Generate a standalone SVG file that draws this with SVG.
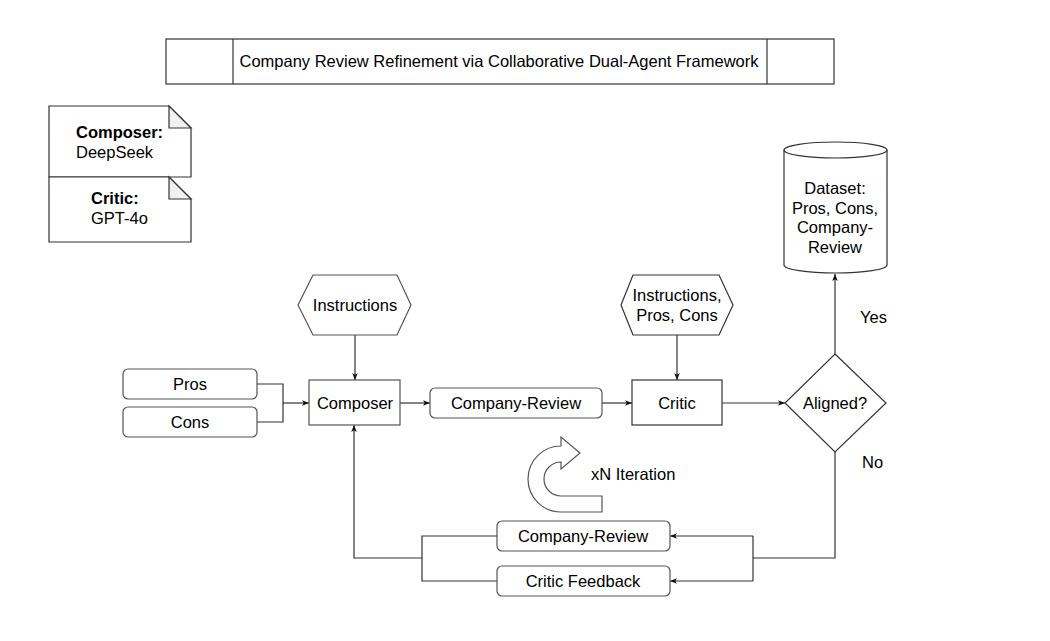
<svg xmlns="http://www.w3.org/2000/svg" width="1050" height="641" viewBox="0 0 1050 641">
<defs>
<style>
text{font-family:"Liberation Sans",Arial,sans-serif;font-size:16.5px;fill:#000;}
.c{text-anchor:middle;}
.b{font-weight:bold;}
.s{fill:#fff;stroke:#333;stroke-width:1.2;}
.g{fill:#fff;stroke:#555;stroke-width:1.2;}
.l{fill:none;stroke:#333;stroke-width:1.2;}
.fold{fill:#f0f0f0;stroke:#333;stroke-width:1.2;}
</style>
<marker id="ah" viewBox="0 0 10 10" refX="10" refY="5" markerWidth="7" markerHeight="7" orient="auto" markerUnits="userSpaceOnUse">
<path d="M0,1 L10,5 L0,9 L2.5,5 Z" fill="#111"/>
</marker>
</defs>
<rect width="1050" height="641" fill="#fff"/>

<g id="title">
<rect class="s" x="166" y="39" width="668" height="45"/>
<line class="l" x1="233" y1="39" x2="233" y2="84"/>
<line class="l" x1="767" y1="39" x2="767" y2="84"/>
<text class="c" x="499" y="67">Company Review Refinement via Collaborative Dual-Agent Framework</text>
</g>

<g id="note-composer">
<path class="s" d="M49,106 H169 L191,128 V177 H49 Z"/>
<path class="fold" d="M169,106 V128 H191 Z"/>
<text class="b" x="76" y="138">Composer:</text>
<text x="76" y="158">DeepSeek</text>
</g>
<g id="note-critic">
<path class="s" d="M49,177 H169 L191,199 V242 H49 Z"/>
<path class="fold" d="M169,177 V199 H191 Z"/>
<text class="b" x="91" y="204">Critic:</text>
<text x="91" y="224">GPT-4o</text>
</g>

<g id="connectors">
<polyline class="l" points="257,384 283,384 283,422 257,422"/>
<line class="l" x1="283" y1="403" x2="309" y2="403" marker-end="url(#ah)"/>
<line class="l" x1="355" y1="335" x2="355" y2="380" marker-end="url(#ah)"/>
<line class="l" x1="677" y1="335" x2="677" y2="380" marker-end="url(#ah)"/>
<line class="l" x1="400" y1="403" x2="430" y2="403" marker-end="url(#ah)"/>
<line class="l" x1="602" y1="403" x2="632" y2="403" marker-end="url(#ah)"/>
<line class="l" x1="722" y1="403" x2="785" y2="403" marker-end="url(#ah)"/>
<line class="l" x1="835" y1="354" x2="835" y2="274" marker-end="url(#ah)"/>
<polyline class="l" points="835,452 835,558 753,558"/>
<polyline class="l" points="753,536 753,581"/>
<line class="l" x1="753" y1="536" x2="670" y2="536" marker-end="url(#ah)"/>
<line class="l" x1="753" y1="581" x2="670" y2="581" marker-end="url(#ah)"/>
<polyline class="l" points="497,536 422,536 422,581 497,581"/>
<polyline class="l" points="422,558 354,558 354,425" marker-end="url(#ah)"/>
<text x="860" y="323">Yes</text>
<text x="862" y="468">No</text>
</g>

<g id="pros">
<rect class="g" x="123" y="369" width="134" height="30" rx="5"/>
<text class="c" x="190" y="390">Pros</text>
</g>
<g id="cons">
<rect class="g" x="123" y="407" width="134" height="30" rx="5"/>
<text class="c" x="190" y="428">Cons</text>
</g>

<g id="instructions">
<polygon class="g" points="313,275 397,275 411,305 397,335 313,335 298,305"/>
<text class="c" x="355" y="311">Instructions</text>
</g>
<g id="composer">
<rect class="g" x="309" y="380" width="91" height="45"/>
<text class="c" x="355" y="409">Composer</text>
</g>
<g id="company-review">
<rect class="g" x="430" y="388" width="172" height="30" rx="5"/>
<text class="c" x="516" y="409">Company-Review</text>
</g>
<g id="critic-inputs">
<polygon class="s" points="633,275 719,275 733,305 719,335 633,335 621,305"/>
<text class="c" x="677" y="301">Instructions,</text>
<text class="c" x="677" y="321">Pros, Cons</text>
</g>
<g id="critic">
<rect class="s" x="632" y="380" width="90" height="45"/>
<text class="c" x="677" y="409">Critic</text>
</g>
<g id="aligned">
<polygon class="s" points="835,354 886,403 835,452 785,403"/>
<text class="c" x="835" y="409">Aligned?</text>
</g>
<g id="dataset">
<path class="s" d="M784,150 V265 A51.5,8 0 0 0 887,265 V150"/>
<ellipse class="s" cx="835.5" cy="150" rx="51.5" ry="8"/>
<text class="c" x="835" y="194">Dataset:</text>
<text class="c" x="835" y="214">Pros, Cons,</text>
<text class="c" x="835" y="233">Company-</text>
<text class="c" x="835" y="253">Review</text>
</g>

<g id="iteration">
<path class="g" d="M561,446 L561,437 L580,453 L561,469 L561,462 A17,17 0 0 0 561,496 L602,496 L602,512 L561,512 A33,33 0 0 1 561,446 Z"/>
<text x="591" y="480">xN Iteration</text>
</g>

<g id="feedback-review">
<rect class="g" x="497" y="521" width="173" height="30" rx="5"/>
<text class="c" x="583" y="542">Company-Review</text>
</g>
<g id="critic-feedback">
<rect class="g" x="497" y="566" width="173" height="30" rx="5"/>
<text class="c" x="583" y="587">Critic Feedback</text>
</g>
</svg>
